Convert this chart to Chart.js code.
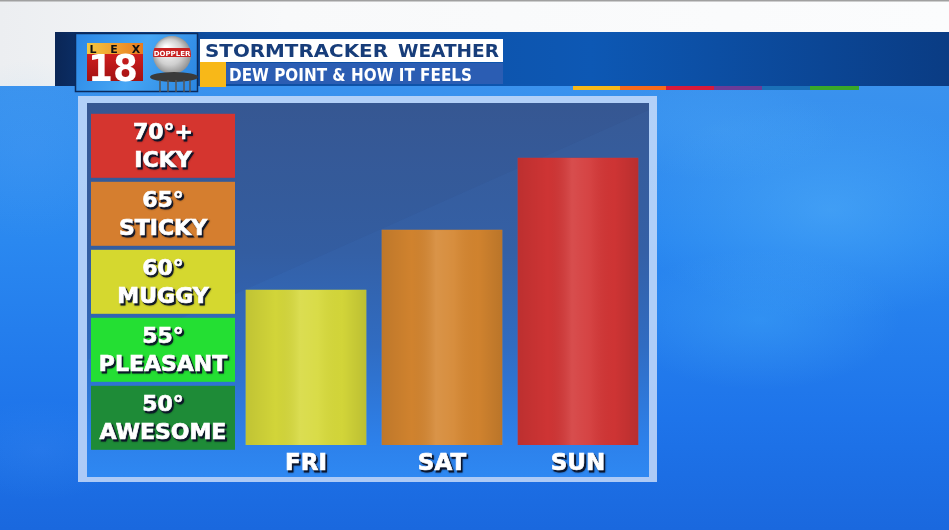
<!DOCTYPE html>
<html><head><meta charset="utf-8">
<script src="https://cdn.jsdelivr.net/npm/chart.js@4.4.1/dist/chart.umd.min.js"></script>
<style>html,body{margin:0;padding:0;background:#2a84ee;overflow:hidden}canvas{display:block}</style>
</head><body>
<canvas id="c" width="949" height="530"></canvas>
<script>
// ---- data ----
const days = ["FRI", "SAT", "SUN"];
const dewPoints = [59.4, 63.8, 69.1];
const bandValues = [50, 55, 60, 65, 70];
const bandDegrees = ["50°", "55°", "60°", "65°", "70°+"];
const bandNames = ["AWESOME", "PLEASANT", "MUGGY", "STICKY", "ICKY"];
const titleWords = ["STORMTRACKER", "WEATHER"];
const subtitleText = "DEW POINT & HOW IT FEELS";
const logoLetters = ["L", "E", "X"];
const logoNumber = "18";
const towerText = "DOPPLER";

// ---- styles ----
const bandColors = ["#1e8b37", "#24df33", "#d5d82f", "#d57e2f", "#d5352f"];
const barColors = ["#d6d93a", "#d4852f", "#d23535"];
const FONT = '"DejaVu Sans", sans-serif';

function fitText(ctx, text, x, y, width, font, color) {
  ctx.save();
  ctx.font = font;
  ctx.textAlign = 'left';
  ctx.textBaseline = 'alphabetic';
  const w = ctx.measureText(text).width;
  ctx.translate(x, y);
  ctx.scale(width / w, 1);
  ctx.fillStyle = color;
  ctx.fillText(text, 0, 0);
  ctx.restore();
}
function shadowText(ctx, text, x, y, font) {
  ctx.save();
  ctx.font = font;
  ctx.textAlign = 'center';
  ctx.textBaseline = 'alphabetic';
  ctx.fillStyle = 'rgba(12,22,45,0.9)';
  ctx.strokeStyle = 'rgba(12,22,45,0.9)';
  ctx.lineWidth = 1;
  ctx.shadowColor = 'rgba(0,0,0,0.5)';
  ctx.shadowBlur = 2;
  ctx.fillText(text, x + 1.6, y + 2);
  ctx.strokeText(text, x + 1.6, y + 2);
  ctx.shadowColor = 'transparent';
  ctx.fillStyle = '#ffffff';
  ctx.strokeStyle = '#ffffff';
  ctx.lineWidth = 0.7;
  ctx.fillText(text, x, y);
  ctx.strokeText(text, x, y);
  ctx.restore();
}

const backgroundPlugin = {
  id: 'bg',
  beforeDraw(chart) {
    const ctx = chart.ctx;
    ctx.save();
    // top white strip
    let g = ctx.createLinearGradient(0, 0, 949, 0);
    g.addColorStop(0, '#eceef1'); g.addColorStop(0.3, '#f8f9fa'); g.addColorStop(1, '#fbfcfd');
    ctx.fillStyle = g; ctx.fillRect(0, 0, 949, 90);
    ctx.fillStyle = '#a0a0a0'; ctx.fillRect(0, 0, 949, 1.5);
    // sky
    g = ctx.createLinearGradient(0, 86, 0, 530);
    g.addColorStop(0, '#3a92ee'); g.addColorStop(0.35, '#2a88f0'); g.addColorStop(0.75, '#1e74ea'); g.addColorStop(1, '#1a68de');
    ctx.fillStyle = g; ctx.fillRect(0, 86, 949, 444);
    const blob = (x, y, rx, ry, c) => {
      ctx.save();
      ctx.translate(x, y); ctx.scale(1, ry / rx);
      const rg = ctx.createRadialGradient(0, 0, 0, 0, 0, rx);
      rg.addColorStop(0, c); rg.addColorStop(1, 'rgba(90,190,255,0)');
      ctx.fillStyle = rg; ctx.fillRect(-rx, -rx, 2 * rx, 2 * rx);
      ctx.restore();
    };
    blob(830, 210, 200, 110, 'rgba(100,195,255,0.35)');
    blob(760, 320, 140, 70, 'rgba(80,190,255,0.28)');
    blob(720, 130, 120, 50, 'rgba(90,180,250,0.2)');
    blob(40, 450, 90, 50, 'rgba(100,170,255,0.12)');
    blob(30, 150, 90, 90, 'rgba(90,170,250,0.15)');
    // header band
    g = ctx.createLinearGradient(55, 0, 949, 0);
    g.addColorStop(0, '#0a2656'); g.addColorStop(0.03, '#0b2f68'); g.addColorStop(0.17, '#0d4c9e');
    g.addColorStop(0.6, '#0d58b4'); g.addColorStop(1, '#0a3c84');
    ctx.fillStyle = g; ctx.fillRect(55, 32, 894, 54);
    // colour stripe
    const stripe = ['#f8b818', '#f86a1a', '#d81a3a', '#6a3c98', '#1a70b8', '#38a82a'];
    const sx = [573, 620, 666, 714, 762, 810, 859];
    stripe.forEach((c, i) => { ctx.fillStyle = c; ctx.fillRect(sx[i], 86, sx[i + 1] - sx[i], 4); });
    // logo box
    g = ctx.createLinearGradient(75, 33, 198, 92);
    g.addColorStop(0, '#2a86e4'); g.addColorStop(0.5, '#46a6f4'); g.addColorStop(1, '#2a84e0');
    ctx.fillStyle = g; ctx.fillRect(75, 33, 123, 59);
    ctx.strokeStyle = '#0b2a5c'; ctx.lineWidth = 1.5; ctx.strokeRect(75.5, 33.5, 122, 58);
    g = ctx.createLinearGradient(87, 0, 143, 0);
    g.addColorStop(0, '#f2c840'); g.addColorStop(0.5, '#f0a030'); g.addColorStop(1, '#e67a20');
    ctx.fillStyle = g; ctx.fillRect(87, 43, 56, 11);
    ctx.fillStyle = '#111'; ctx.font = 'bold 11px ' + FONT; ctx.textAlign = 'center';
    [93, 114, 136].forEach((x, i) => ctx.fillText(logoLetters[i], x, 53));
    g = ctx.createLinearGradient(0, 54, 0, 81);
    g.addColorStop(0, '#cf1e1e'); g.addColorStop(1, '#a21212');
    ctx.fillStyle = g; ctx.fillRect(87, 54, 56, 27);
    fitText(ctx, logoNumber, 88, 80.5, 50, 'bold 37px ' + FONT, '#ffffff');
    // tower sphere
    ctx.save();
    ctx.beginPath(); ctx.arc(172, 55, 19, 0, Math.PI * 2); ctx.closePath();
    const sg = ctx.createRadialGradient(166, 48, 2, 172, 55, 20);
    sg.addColorStop(0, '#ffffff'); sg.addColorStop(0.6, '#cfcfcf'); sg.addColorStop(1, '#8c8c8c');
    ctx.fillStyle = sg; ctx.fill(); ctx.clip();
    ctx.fillStyle = '#c82222'; ctx.fillRect(150, 48, 45, 9);
    ctx.fillStyle = '#fff'; ctx.font = 'bold 7px ' + FONT; ctx.textAlign = 'center';
    ctx.fillText(towerText, 172, 55.5);
    ctx.restore();
    ctx.fillStyle = '#3a3a3a';
    ctx.beginPath(); ctx.ellipse(174, 77, 24, 5, 0, 0, Math.PI * 2); ctx.fill();
    ctx.strokeStyle = '#555'; ctx.lineWidth = 1.5;
    [160, 168, 176, 184, 190].forEach(x => { ctx.beginPath(); ctx.moveTo(x, 80); ctx.lineTo(x, 92); ctx.stroke(); });
    // title boxes
    ctx.fillStyle = '#ffffff'; ctx.fillRect(200, 39, 303, 23);
    fitText(ctx, titleWords[0], 205, 57, 183, 'bold 18px ' + FONT, '#173d7a');
    fitText(ctx, titleWords[1], 398, 57, 101, 'bold 18px ' + FONT, '#173d7a');
    ctx.fillStyle = '#f8b818'; ctx.fillRect(200, 62, 26, 25);
    ctx.fillStyle = '#2b5db3'; ctx.fillRect(226, 63, 277, 21);
    fitText(ctx, subtitleText, 229, 81, 243, 'bold 18px ' + FONT, '#ffffff');
    // panel frame
    ctx.fillStyle = 'rgba(205,222,250,0.82)'; ctx.fillRect(78, 96, 579, 386);
    g = ctx.createLinearGradient(0, 103, 0, 477);
    g.addColorStop(0, '#375a96'); g.addColorStop(0.4, '#3460a6'); g.addColorStop(0.65, '#306cc2');
    g.addColorStop(0.9, '#2d80ea'); g.addColorStop(1, '#2e88f2');
    ctx.fillStyle = g; ctx.fillRect(87, 103, 562, 374);
    ctx.beginPath(); ctx.moveTo(87, 103); ctx.lineTo(649, 103); ctx.lineTo(649, 110); ctx.lineTo(87, 360); ctx.closePath();
    ctx.fillStyle = 'rgba(30,40,80,0.05)'; ctx.fill();
    ctx.restore();
  },
  beforeDatasetsDraw(chart) {
    const ctx = chart.ctx, y = chart.scales.y;
    ctx.save();
    bandValues.forEach((v, i) => {
      const top = y.getPixelForValue(v + 2.5) + 2;
      const bot = y.getPixelForValue(v - 2.5) - 2;
      ctx.fillStyle = bandColors[i];
      ctx.fillRect(91, top, 144, bot - top);
      const c = (top + bot) / 2;
      shadowText(ctx, bandDegrees[i], 163, c - 7, 'bold 22px ' + FONT);
      shadowText(ctx, bandNames[i], 163, c + 21, 'bold 22px ' + FONT);
    });
    ctx.restore();
  },
  afterDatasetsDraw(chart) {
    const ctx = chart.ctx;
    const area = chart.chartArea;
    const meta = chart.getDatasetMeta(0);
    ctx.save();
    meta.data.forEach((el, i) => {
      const p = el.getProps(['x', 'y', 'base', 'width'], true);
      const l = p.x - p.width / 2;
      const bottom = Math.min(p.base, area.bottom);
      const g = ctx.createLinearGradient(l, 0, l + p.width, 0);
      g.addColorStop(0, 'rgba(0,0,0,0.10)');
      g.addColorStop(0.25, 'rgba(0,0,0,0.02)');
      g.addColorStop(0.45, 'rgba(255,255,255,0.12)');
      g.addColorStop(0.6, 'rgba(255,255,255,0.07)');
      g.addColorStop(0.8, 'rgba(0,0,0,0.02)');
      g.addColorStop(1, 'rgba(0,0,0,0.12)');
      ctx.fillStyle = g;
      ctx.fillRect(l, p.y, p.width, bottom - p.y);
      shadowText(ctx, chart.data.labels[i], p.x, 470, 'bold 23px ' + FONT);
    });
    ctx.restore();
  }
};

new Chart(document.getElementById('c'), {
  type: 'bar',
  data: {
    labels: days,
    datasets: [{
      label: 'Dew point',
      data: dewPoints,
      backgroundColor: barColors,
      borderWidth: 0,
      barThickness: 120
    }]
  },
  options: {
    responsive: false,
    animation: false,
    layout: { padding: { left: 238, right: 303, top: 105, bottom: 85 } },
    plugins: { legend: { display: false }, tooltip: { enabled: false } },
    scales: {
      x: { display: false },
      y: { display: false, min: 48, max: 73 }
    }
  },
  plugins: [backgroundPlugin]
});
</script>
</body></html>
